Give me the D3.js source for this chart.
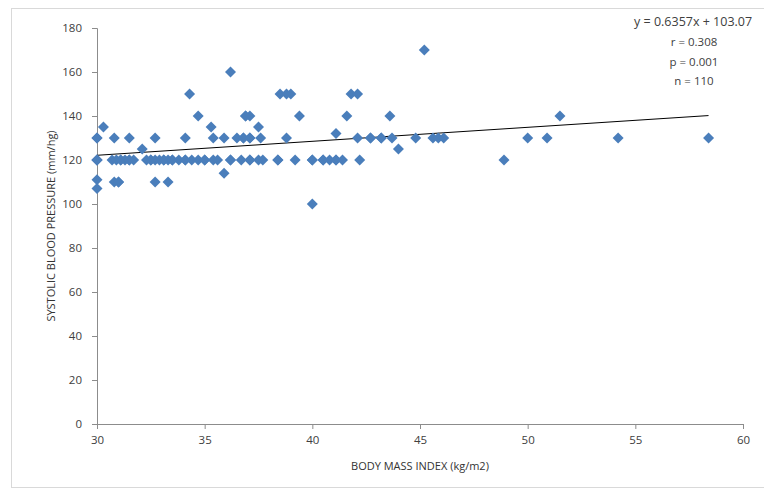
<!DOCTYPE html>
<html>
<head>
<meta charset="utf-8">
<script src="https://cdn.jsdelivr.net/npm/d3@7"></script>
<style>
  body { margin: 0; background: #fff; }
  svg text { font-family: "Open Sans", "Noto Sans", sans-serif; }
</style>
</head>
<body>
<div id="chart"></div>
<script>
// BMI values (x) and systolic pressure (y)
const bmi = [
  30.0, 30.0, 30.0, 30.0, 30.3,
  30.8, 31.5, 32.7, 34.1,
  34.3, 34.7, 32.1,
  30.8, 31.0, 32.7, 33.3,
  30.7, 30.9, 31.1, 31.3, 31.5, 31.7, 32.3, 32.5, 32.7, 32.9, 33.1, 33.3, 33.5, 33.8, 34.1, 34.4,
  36.2, 38.5, 38.8, 39.0,
  36.9, 37.1, 39.4,
  35.3, 37.5,
  35.4, 35.9, 36.5, 36.8, 37.1, 37.6, 38.8,
  34.7, 35.0, 35.4, 35.6, 36.2, 36.7, 37.1, 37.5, 37.7, 38.4, 39.2,
  35.9,
  41.8, 42.1,
  41.6, 43.6,
  41.1,
  42.1, 42.7, 43.2, 43.7,
  44.8,
  44.0,
  40.0, 40.5, 40.8, 41.1, 41.4, 42.2,
  40.0,
  45.2,
  45.6, 45.85, 46.1,
  48.9,
  50.0, 50.9,
  51.5,
  54.2, 58.4,
  // hidden under other markers
  30.0, 30.0, 31.1, 31.5, 32.5, 33.1, 33.5, 34.1, 35.0, 36.2,
  37.1, 38.4, 40.0, 40.5, 41.1, 36.8, 37.1, 42.7, 43.2, 30.0,
  31.0, 36.9
]
const sbp = [
  130, 120, 111, 107, 135,
  130, 130, 130, 130,
  150, 140, 125,
  110, 110, 110, 110,
  120, 120, 120, 120, 120, 120, 120, 120, 120, 120, 120, 120, 120, 120, 120, 120,
  160, 150, 150, 150,
  140, 140, 140,
  135, 135,
  130, 130, 130, 130, 130, 130, 130,
  120, 120, 120, 120, 120, 120, 120, 120, 120, 120, 120,
  114,
  150, 150,
  140, 140,
  132,
  130, 130, 130, 130,
  130,
  125,
  120, 120, 120, 120, 120, 120,
  100,
  170,
  130, 130, 130,
  120,
  130, 130,
  140,
  130, 130,
  120, 120, 120, 120, 120, 120, 120, 120, 120, 120,
  120, 120, 120, 120, 120, 130, 130, 130, 130, 130,
  110, 140
]

const xTicks = [30, 35, 40, 45, 50, 55, 60]
const yTicks = [0, 20, 40, 60, 80, 100, 120, 140, 160, 180]

// trendline from the stated fit
const slope = 0.6357
const intercept = 103.07
const statLines = ['r = 0.308', 'p = 0.001', 'n = ' + bmi.length]

const width = 764, height = 494
const margin = {top: 28, right: 21, bottom: 70, left: 97}

const svg = d3.select('#chart')
  .append('svg')
    .attr('width', width)
    .attr('height', height)

// chart area border
svg.append('rect')
  .attr('x', 11.5)
  .attr('y', 8.5)
  .attr('width', 800)
  .attr('height', 479)
  .attr('fill', 'none')
  .attr('stroke', '#d9d9d9')

const x = d3.scaleLinear()
  .domain([30, 60])
  .range([margin.left, width - margin.right])

const y = d3.scaleLinear()
  .domain([0, 180])
  .range([height - margin.bottom, margin.top])

// x axis
const xAxis = svg.append('g')
  .attr('transform', `translate(0,${y(0)})`)
  .call(d3.axisBottom(x).tickValues(xTicks).tickSize(5).tickPadding(7))
xAxis.select('.domain').attr('stroke', '#8c8c8c')
xAxis.selectAll('.tick line').attr('stroke', '#8c8c8c')
xAxis.selectAll('text')
  .attr('fill', '#404040')
  .style('font-size', '11.5px')

// y axis
const yAxis = svg.append('g')
  .attr('transform', `translate(${x(30)},0)`)
  .call(d3.axisLeft(y).tickValues(yTicks).tickSize(5).tickPadding(10))
yAxis.select('.domain').attr('stroke', '#8c8c8c')
yAxis.selectAll('.tick line').attr('stroke', '#8c8c8c')
yAxis.selectAll('text')
  .attr('fill', '#404040')
  .style('font-size', '11.5px')

// axis titles
svg.append('text')
  .attr('x', (x(30) + x(60)) / 2)
  .attr('y', 470)
  .attr('text-anchor', 'middle')
  .attr('fill', '#333')
  .style('font-size', '11px')
  .text('BODY MASS INDEX (kg/m2)')

svg.append('text')
  .attr('transform', `translate(55,${(y(0) + y(180)) / 2}) rotate(-90)`)
  .attr('text-anchor', 'middle')
  .attr('fill', '#333')
  .style('font-size', '11px')
  .text('SYSTOLIC BLOOD PRESSURE (mm/hg)')

// trendline
const xExtent = d3.extent(bmi)
svg.append('line')
  .attr('x1', x(xExtent[0]))
  .attr('y1', y(slope * xExtent[0] + intercept))
  .attr('x2', x(xExtent[1]))
  .attr('y2', y(slope * xExtent[1] + intercept))
  .attr('stroke', '#000')
  .attr('stroke-width', 1)

// diamond markers
const r = 5.5
const diamond = `M0,${-r}L${r},0L0,${r}L${-r},0Z`
svg.append('g')
  .selectAll('path')
  .data(d3.zip(bmi, sbp))
  .join('path')
    .attr('d', diamond)
    .attr('transform', d => `translate(${x(d[0])},${y(d[1])})`)
    .attr('fill', '#4a7ebb')

// trendline label
svg.append('text')
  .attr('x', 634)
  .attr('y', 26)
  .attr('fill', '#404040')
  .style('font-size', '12.5px')
  .text(`y = ${slope}x + ${intercept}`)

svg.append('g')
  .selectAll('text')
  .data(statLines)
  .join('text')
    .attr('x', 694)
    .attr('y', (d, i) => 46 + i * 19.5)
    .attr('text-anchor', 'middle')
    .attr('fill', '#404040')
    .style('font-size', '11.5px')
    .text(d => d)
</script>
</body>
</html>
